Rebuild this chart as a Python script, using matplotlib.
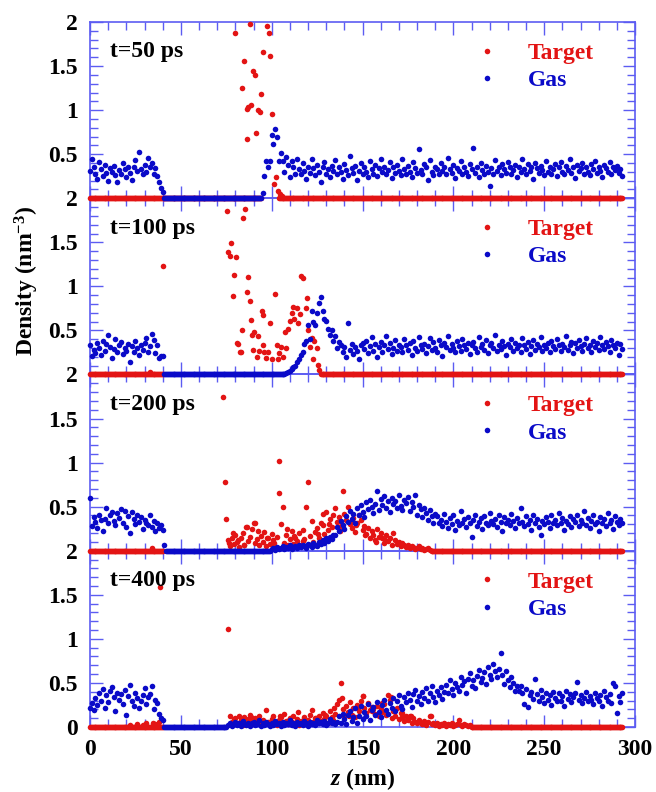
import numpy as np
import matplotlib
matplotlib.use('Agg')
import matplotlib.pyplot as plt
from matplotlib.ticker import MultipleLocator

plt.rcParams['font.family'] = 'Liberation Serif'
plt.rcParams['font.weight'] = 'bold'
plt.rcParams['axes.labelweight'] = 'bold'
plt.rcParams['mathtext.fontset'] = 'custom'
plt.rcParams['mathtext.it'] = 'Liberation Serif:italic:bold'
plt.rcParams['mathtext.rm'] = 'Liberation Serif:bold'
plt.rcParams['mathtext.bf'] = 'Liberation Serif:bold'

RED = '#e31414'
BLUE = '#0a0ac8'
FRAME = '#5c5cf2'
FS = 17

times = ['t=50 ps', 't=100 ps', 't=200 ps', 't=400 ps']

########## t = 50 ps #########################
gas_50_left = [0.31,0.45,0.36,0.27,0.22,0.41,0.33,0.25,0.38,0.29,0.20,0.34,0.30,0.37,0.26,0.18,0.32,0.28,0.40,0.33,
               0.24,0.35,0.29,0.21,0.36,0.43,0.31,0.52,0.33,0.27,0.38,0.30,0.46,0.35,0.40,0.28,0.34,0.25,0.19,0.12,0.07]
gas_50_zero = [(41, 94)]
gas_50_right_start = 95
gas_50_right = [0.06,0.25,0.42,0.36,0.42,0.72,0.62,0.79,0.69,0.42,0.51,0.42,0.30,0.47,0.38,0.24,0.42,0.35,0.28,0.44,
                0.33,0.27,0.40,0.31,0.22,0.36,0.29,0.45,0.34,0.26,0.38,0.30,0.18,0.35,0.41,0.28,0.33,0.24,0.37,0.31,
                0.43,0.27,0.35,0.30,0.22,0.39,0.32,0.26,0.48,0.34,0.29,0.37,0.21,0.31,0.40,0.27,0.35,0.30,0.24,0.42,
                0.33,0.28,0.38,0.25,0.34,0.45,0.30,0.36,0.27,0.32,0.41,0.23,0.35,0.29,0.38,0.31,0.26,0.44,0.33,0.28,
                0.37,0.30,0.24,0.41,0.34,0.29,0.56,0.32,0.27,0.39,0.35,0.21,0.43,0.30,0.26,0.36,0.33,0.28,0.40,0.31,
                0.35,0.27,0.46,0.33,0.29,0.38,0.23,0.34,0.31,0.42,0.28,0.36,0.30,0.25,0.39,0.33,0.57,0.29,0.35,0.24,
                0.40,0.32,0.27,0.37,0.30,0.14,0.34,0.28,0.43,0.31,0.36,0.26,0.39,0.33,0.29,0.41,0.35,0.27,0.32,0.38,
                0.24,0.36,0.30,0.44,0.33,0.27,0.39,0.31,0.35,0.22,0.40,0.34,0.29,0.37,0.32,0.26,0.42,0.30,0.36,0.28,
                0.33,0.39,0.25,0.35,0.41,0.30,0.27,0.37,0.32,0.44,0.29,0.36,0.23,0.38,0.31,0.34,0.40,0.28,0.35,0.30,
                0.26,0.39,0.33,0.42,0.29,0.36,0.31,0.24,0.38,0.34,0.30,0.41,0.27,0.35,0.32,0.37,0.29,0.33,0.25]
target_50_zero = [(0, 94), (104, 293)]
target_50_z = [80,83.8,84.6,86.2,86.6,87.2,88.0,88.4,89.9,90.8,91.4,92.5,93.4,94.1,95.0,97.2,98.4,99.3,100.0,101.5,
               102.6,103.4,104.5,105.5]
target_50_v = [1.88,1.25,1.56,1.01,0.67,1.04,1.98,1.06,1.44,1.40,0.74,1.00,0.98,1.18,1.66,1.96,1.88,1.61,0.96,0.16,
               0.24,0.08,0.05,0.03]
target_50_grid_start = 0
target_50_grid = []

########## t = 100 ps #########################
gas_100_left = [0.33,0.21,0.28,0.24,0.36,0.30,0.22,0.38,0.27,0.35,0.45,0.31,0.19,0.29,0.40,0.25,0.33,0.37,0.23,0.30,
                0.27,0.35,0.14,0.32,0.26,0.38,0.30,0.22,0.34,0.28,0.36,0.41,0.26,0.32,0.46,0.39,0.24,0.33,0.19,0.21,0.21]
gas_100_zero = [(41, 107)]
gas_100_right_start = 108
gas_100_right = [0.02,0.03,0.04,0.06,0.08,0.10,0.14,0.18,0.22,0.26,0.35,0.38,0.56,0.40,0.72,0.60,0.56,0.70,0.81,0.88,
                 0.72,0.63,0.61,0.52,0.45,0.50,0.38,0.44,0.30,0.37,0.33,0.26,0.31,0.20,0.59,0.28,0.35,0.23,0.31,0.27,
                 0.18,0.33,0.36,
                 0.29,0.38,0.24,0.32,0.42,0.27,0.35,0.20,0.31,0.37,0.26,0.33,0.44,0.29,0.36,0.23,0.30,0.39,0.27,0.34,
                 0.31,0.25,0.40,0.33,0.28,0.36,0.22,0.38,0.30,0.27,0.43,0.34,0.29,0.35,0.24,0.32,0.41,0.28,0.37,0.30,
                 0.26,0.39,0.33,0.21,0.36,0.31,0.44,0.28,0.35,0.30,0.25,0.38,0.32,0.27,0.40,0.34,0.29,0.36,0.23,0.33,
                 0.37,0.30,0.26,0.42,0.31,0.35,0.28,0.39,0.24,0.33,0.36,0.30,0.45,0.27,0.34,0.29,0.38,0.32,0.22,0.35,
                 0.31,0.40,0.27,0.36,0.30,0.33,0.26,0.41,0.34,0.29,0.37,0.23,0.32,0.39,0.28,0.35,0.31,0.43,0.27,0.34,
                 0.30,0.36,0.25,0.38,0.32,0.29,0.40,0.34,0.27,0.35,0.31,0.44,0.28,0.33,0.37,0.24,0.36,0.30,0.39,0.32,
                 0.27,0.35,0.41,0.30,0.33,0.25,0.38,0.31,0.36,0.28,0.42,0.34,0.29,0.37,0.32,0.26,0.39,0.33,0.30,0.36,
                 0.22,0.35,0.29]
target_100_zero = [(0, 40), (127, 293)]
target_100_z = [33,40.4,75.2,76.1,77.0,77.4,78.5,79.3,80.3,81.6,82.6,83.8,84.4,85.3,86.2,87.1,88.0,89.0,89.9,90.4,
                91.7,93.0,94.5,95.0,95.4,97.0,99.0,100.0,101.8,102.7,103.5,105.0,107.3,108.0,109.0,110.0,111.0,111.9,114.0,114.6,
                115.6,116.0,117.0,118.9,119.5,121.0,122.0,122.9,124.7,125.5,126.0,
                81.0,83.0,88.5,92.5,96.0,98.0,104.0,106.0,112.5,120.0,123.5]
target_100_v = [0.03,1.23,1.86,1.39,1.34,1.49,0.89,1.13,1.33,0.35,0.25,0.50,1.78,1.88,0.94,1.11,0.83,0.45,0.28,0.48,
                0.20,0.27,0.72,0.68,0.33,0.19,0.58,0.18,0.91,0.33,0.18,0.31,0.48,0.30,0.52,0.61,0.70,0.77,0.75,0.59,
                0.69,1.12,1.10,0.76,0.87,0.31,0.41,0.18,0.30,0.11,0.05,
                0.36,0.25,0.62,0.44,0.25,0.26,0.24,0.20,0.63,0.50,0.38]
target_100_grid_start = 0
target_100_grid = []

########## t = 200 ps #########################
gas_200_left = [0.60,0.28,0.38,0.33,0.26,0.41,0.35,0.22,0.36,0.48,0.31,0.40,0.44,0.34,0.29,0.43,0.37,0.47,0.32,0.45,
                0.27,0.39,0.20,0.44,0.36,0.30,0.41,0.33,0.38,0.25,0.35,0.31,0.29,0.40,0.27,0.34,0.22,0.31,0.26,0.29,
                0.24,0.06]
gas_200_zero = [(42, 99)]
gas_200_right_start = 100
gas_200_right = [0.02,0.03,0.01,0.04,0.02,0.03,0.05,0.02,0.04,0.03,0.06,0.02,0.04,0.05,0.03,0.06,0.04,0.07,0.05,0.03,
                 0.08,0.06,0.04,0.09,0.07,0.05,0.10,0.08,0.12,0.09,0.14,0.11,0.16,0.13,0.18,
                 0.18,0.27,0.22,0.34,0.29,0.25,0.39,0.33,0.45,0.36,0.42,0.31,0.48,0.40,0.52,0.44,0.38,0.55,0.47,0.58,
                 0.50,0.43,0.53,0.68,0.46,0.59,0.52,0.62,0.48,0.56,0.44,0.60,0.53,0.57,0.49,0.63,0.51,0.46,0.58,0.54,
                 0.61,0.45,0.55,0.50,0.63,0.41,0.52,0.47,0.38,0.49,0.43,0.35,0.46,0.39,0.32,0.42,
                 0.39,0.31,0.35,0.28,0.42,0.33,0.26,0.37,0.30,0.40,0.23,0.34,0.29,0.45,0.32,0.36,0.27,0.38,0.31,0.16,
                 0.35,0.41,0.28,0.33,0.37,0.25,0.39,0.32,0.29,0.43,0.34,0.30,0.36,0.27,0.40,0.33,0.22,0.38,0.31,0.35,
                 0.29,0.42,0.34,0.26,0.37,0.31,0.48,0.33,0.28,0.39,0.30,0.35,0.24,0.41,0.32,0.36,0.27,0.18,0.34,0.30,
                 0.38,0.33,0.26,0.40,0.31,0.35,0.29,0.43,0.32,0.37,0.24,0.34,0.30,0.39,0.27,0.36,0.33,0.41,0.28,0.35,
                 0.31,0.45,0.29,0.37,0.26,0.34,0.40,0.30,0.33,0.22,0.38,0.32,0.36,0.28,0.43,0.31,0.35,0.25,0.39,0.33,
                 0.29,0.36,0.31]
target_200_zero = [(0, 40), (188, 293)]
target_200_z = [34,73.4,74.3,104.2,90.8,86.6,76.5,78.5,81.5,84.5,92.5,97.5,101.5,108.5,112.5,117.5,125.5,128.5,131.5,137.5,
                143.5,146.5,151.5,157.5,162.5]
target_200_v = [0.03,1.75,0.78,1.02,0.31,0.27,0.09,0.20,0.12,0.06,0.22,0.14,0.09,0.25,0.17,0.11,0.19,0.42,0.30,0.22,
                0.33,0.29,0.18,0.10,0.12]
target_200_grid_start = 75
target_200_grid = [0.36,0.12,0.05,0.15,0.08,0.18,0.10,0.04,0.14,0.20,0.07,0.27,0.11,0.16,0.25,0.31,0.09,0.13,0.06,0.17,
                   0.10,0.21,0.05,0.14,0.08,0.19,0.12,0.03,0.16,0.66,0.30,0.50,0.09,0.18,0.06,0.13,0.22,0.08,0.15,0.11,
                   0.20,0.07,0.24,0.13,0.50,0.78,0.17,0.34,0.10,0.21,0.26,0.14,0.31,0.29,0.19,0.44,0.23,0.36,0.27,0.40,
                   0.49,0.33,0.38,0.28,0.68,0.42,0.35,0.50,0.30,0.26,0.37,0.21,0.32,0.40,0.35,0.24,0.28,0.19,0.26,0.15,
                   0.22,0.18,0.12,0.25,0.16,0.20,0.14,0.09,0.18,0.11,0.15,0.07,0.20,0.12,0.08,0.10,0.05,0.09,0.06,0.04,
                   0.07,0.03,0.05,0.04,0.02,0.03,0.05,0.02,0.03,0.01,0.02,0.03,0.01]

########## t = 400 ps #########################
gas_400_left = [0.21,0.27,0.19,0.33,0.25,0.38,0.30,0.43,0.22,0.36,0.28,0.41,0.45,0.34,0.18,0.39,0.31,0.37,0.26,0.42,
                0.14,0.35,0.48,0.29,0.24,0.38,0.33,0.21,0.30,0.36,0.44,0.26,0.34,0.37,0.47,0.20,0.31,0.27,0.15,0.10,0.08]
gas_400_zero = [(41, 75)]
gas_400_right_start = 76
gas_400_right = [0.02,0.05,0.01,0.03,0.06,0.02,0.04,0.01,0.07,0.03,0.02,0.05,0.01,0.04,0.06,0.02,0.03,0.08,0.01,0.04,
                 0.02,0.06,0.03,0.01,0.05,0.02,0.07,0.03,0.04,0.01,0.06,0.02,0.05,0.03,0.08,0.02,0.04,0.01,0.06,0.03,
                 0.05,0.02,0.07,0.04,0.01,0.06,0.03,0.05,0.02,0.08,0.04,0.06,0.03,0.07,0.02,0.05,0.09,0.04,0.06,0.03,
                 0.06,0.12,0.04,0.15,0.09,0.03,0.14,0.18,0.07,0.11,0.21,0.05,0.13,0.24,0.09,0.17,0.12,0.26,0.08,0.19,
                 0.23,0.14,0.28,0.17,0.11,0.25,0.31,0.19,0.15,0.27,0.22,0.33,0.18,0.29,0.36,0.24,0.20,0.34,0.28,0.39,
                 0.31,0.23,0.37,0.42,0.29,0.35,0.26,0.40,0.33,0.44,0.30,0.38,0.47,0.34,0.28,0.41,0.36,0.45,0.32,0.40,
                 0.48,0.38,0.53,0.43,0.36,0.50,0.45,0.41,0.57,0.48,0.52,0.39,0.55,0.61,0.47,0.53,0.44,0.58,0.65,0.51,
                 0.56,0.62,0.49,0.68,0.59,0.54,0.72,0.63,0.57,0.66,0.84,0.59,0.49,0.64,0.53,0.45,0.57,0.50,0.41,0.47,
                 0.41,0.47,0.38,0.26,0.43,0.23,0.36,0.40,0.32,0.55,0.37,0.29,0.42,0.34,0.27,0.39,0.31,0.36,0.25,0.40,
                 0.33,0.29,0.38,0.30,0.35,0.24,0.41,0.32,0.37,0.28,0.34,0.39,0.51,0.31,0.36,0.27,0.33,0.40,0.29,0.35,
                 0.31,0.26,0.38,0.33,0.29,0.36,0.24,0.41,0.34,0.30,0.37,0.27,0.50,0.47,0.16,0.35,0.28,0.39]
target_400_zero = [(0, 40), (210, 293)]
target_400_z = [22,26,29,31,34.5,36,38,38.5,75.8,79.5,83.5,88.5,93.5,99.5,104.5,109.5,114.5,119.5,
                124.5,129.5,134.5,138.5,142.5,147.5,150.5,155.5,160.5,165.5,171.5,176.5,182.5,187.6]
target_400_v = [0.02,0.03,0.02,0.04,0.05,0.03,0.06,1.59,1.11,0.09,0.05,0.11,0.07,0.04,0.13,0.08,0.17,0.06,
                0.10,0.14,0.22,0.33,0.12,0.23,0.35,0.18,0.27,0.34,0.16,0.12,0.05,0.12]
target_400_grid_start = 77
target_400_grid = [0.12,0.06,0.03,0.10,0.05,0.13,0.08,0.02,0.11,0.04,0.09,0.14,0.06,0.03,0.10,0.07,0.12,0.04,0.08,0.05,
                   0.19,0.06,0.03,0.09,0.13,0.05,0.02,0.08,0.11,0.04,0.15,0.07,0.03,0.10,0.06,0.12,0.04,0.09,0.02,0.07,
                   0.05,0.11,0.03,0.08,0.14,0.19,0.06,0.10,0.04,0.12,0.07,0.16,0.09,0.13,0.05,0.18,0.11,0.08,0.15,0.26,
                   0.31,0.50,0.20,0.13,0.24,0.17,0.28,0.14,0.21,0.11,0.25,0.18,0.30,0.35,0.22,0.16,0.27,0.19,0.23,0.20,
                   0.15,0.24,0.12,0.20,0.17,0.26,0.14,0.36,0.31,0.10,0.18,0.13,0.21,0.09,0.16,0.11,0.07,0.13,0.08,0.12,
                   0.05,0.10,0.06,0.04,0.08,0.05,0.03,0.07,0.02,0.06,0.12,0.03,0.05,0.02,0.04,0.01,0.03,0.02,0.05,0.01,
                   0.03,0.02,0.04,0.01,0.02,0.03,0.08,0.02,0.01,0.03,0.02,0.01,0.02]

ytick_labels = [['2', '0.5', '1', '1.5', '2'],
                ['2', '0.5', '1', '1.5', ''],
                ['2', '0.5', '1', '1.5', ''],
                ['0', '0.5', '1', '1.5', '']]


def zero_run(spans):
  z = np.concatenate([np.arange(a, b + 0.01, 0.5) for a, b in spans])
  return z, np.zeros_like(z)


def on_grid(z0, vals):
  return z0 + np.arange(len(vals)), np.array(vals, dtype=float)


def dots(ax, z, v, col):
  return ax.plot(z, v, 'o', ms=4.0, mew=0, color=col, clip_on=False, zorder=3)[0]


panels = [
  (gas_50_left, gas_50_zero, gas_50_right_start, gas_50_right,
   target_50_zero, target_50_z, target_50_v, target_50_grid_start, target_50_grid),
  (gas_100_left, gas_100_zero, gas_100_right_start, gas_100_right,
   target_100_zero, target_100_z, target_100_v, target_100_grid_start, target_100_grid),
  (gas_200_left, gas_200_zero, gas_200_right_start, gas_200_right,
   target_200_zero, target_200_z, target_200_v, target_200_grid_start, target_200_grid),
  (gas_400_left, gas_400_zero, gas_400_right_start, gas_400_right,
   target_400_zero, target_400_z, target_400_v, target_400_grid_start, target_400_grid),
]

fig, axes = plt.subplots(4, 1, figsize=(6.56, 7.92), dpi=100, sharex=True)
fig.patch.set_facecolor('white')
fig.subplots_adjust(left=0.1372, right=0.968, bottom=0.0821, top=0.9722, hspace=0)

for i, (ax, p) in enumerate(zip(axes, panels)):
  g_left, g_zero, g_start, g_right, t_zero, t_z, t_v, t_start, t_grid = p
  ax.patch.set_visible(False)
  # upper panels on top so their zero rows cover the next frame line
  ax.set_zorder(4 - i)

  # target first, gas drawn on top
  h_t = dots(ax, *zero_run(t_zero), RED)
  dots(ax, t_z, t_v, RED)
  if len(t_grid):
    dots(ax, *on_grid(t_start, t_grid), RED)

  h_g = dots(ax, *on_grid(0, g_left), BLUE)
  dots(ax, *zero_run(g_zero), BLUE)
  dots(ax, *on_grid(g_start, g_right), BLUE)

  ax.set_xlim(0, 300)
  ax.set_ylim(0, 2)
  ax.xaxis.set_major_locator(MultipleLocator(50))
  ax.xaxis.set_minor_locator(MultipleLocator(10))
  ax.set_yticks([0, 0.5, 1, 1.5, 2])
  ax.set_yticklabels(ytick_labels[i])
  ax.yaxis.set_minor_locator(MultipleLocator(0.1))
  ax.tick_params(which='both', direction='in', top=True, right=True,
                 color=FRAME, width=1, labelsize=FS, pad=9)
  ax.tick_params(which='major', length=9)
  ax.tick_params(which='minor', length=5.5)
  for s in ax.spines.values():
    s.set_color(FRAME)
    s.set_linewidth(1.2)

  ax.text(0.037, 0.83, times[i], transform=ax.transAxes, fontsize=FS,
          va='center', ha='left', fontweight='bold')

  ax.legend([h_t, h_g], ['Target', 'Gas'], loc='upper left',
            bbox_to_anchor=(0.706, 0.885), frameon=False, borderpad=0,
            borderaxespad=0, handlelength=1.0, handletextpad=1.25,
            labelspacing=0.25,
            prop={'family': 'Liberation Serif', 'weight': 'bold', 'size': FS},
            labelcolor=[RED, BLUE])

axes[3].set_xlabel('$z$ (nm)', fontsize=FS, labelpad=4)
fig.text(0.041, 1 - 281 / 792, 'Density (nm$^{-3}$)', rotation=90,
         ha='center', va='center', fontsize=FS, fontweight='bold')

fig.savefig('out.png', dpi=100)
